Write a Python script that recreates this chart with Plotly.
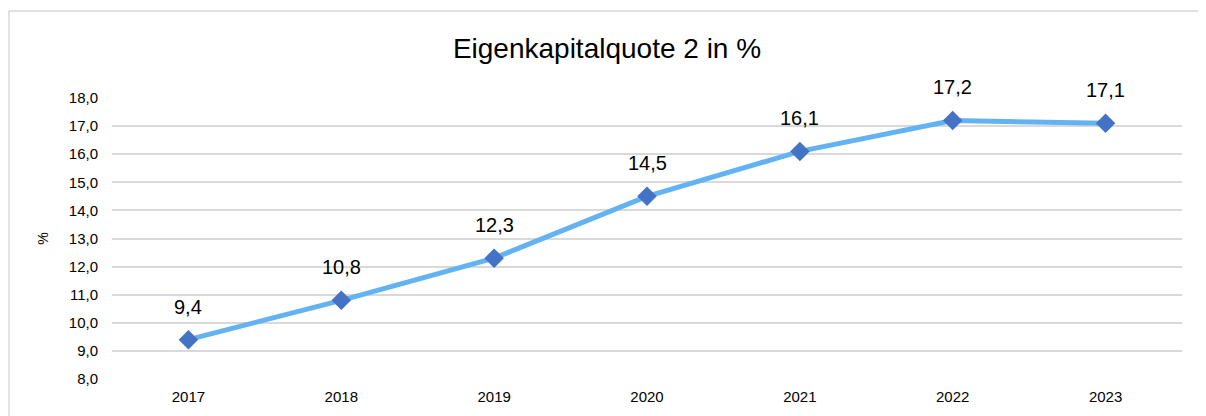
import plotly.graph_objects as go

years = ["2017", "2018", "2019", "2020", "2021", "2022", "2023"]
values = [9.4, 10.8, 12.3, 14.5, 16.1, 17.2, 17.1]
y_ticks = [8, 9, 10, 11, 12, 13, 14, 15, 16, 17, 18]
y_tick_labels = [f"{v:.1f}".replace(".", ",") for v in y_ticks]
value_labels = [f"{v:.1f}".replace(".", ",") for v in values]

FONT = "Liberation Sans, Arial, sans-serif"

# page body has an 8px margin; plot area wanted at screen x 112-1182, y 98-379
OFF = 8
PL, PR, PT, PB = 112, 1182, 98, 379
SW, SH = 1206, 416
W, H = SW - OFF, SH - OFF

fig = go.Figure()
fig.add_trace(go.Scatter(
    x=years, y=values, mode="lines+markers",
    line=dict(color="#63B3F2", width=5),
    marker=dict(symbol="diamond", size=15, color="#4472C4"),
    hoverinfo="skip", showlegend=False,
))

for i, (y, t) in enumerate(zip(values, value_labels)):
    fig.add_annotation(x=i, y=y, xref="x", yref="y", text=t, showarrow=False,
                       yshift=33,
                       font=dict(family=FONT, size=20, color="#000000"))

pw, ph = PR - PL, PB - PT
bx0 = (9 - PL) / pw
bx1 = (SW + 20 - PL) / pw
by0 = (PB - SH - 20) / ph
by1 = (PB - 11) / ph
border = dict(color="#D9D9D9", width=1.5)
fig.add_shape(type="line", xref="paper", yref="paper", x0=bx0, x1=bx0,
              y0=by0, y1=by1, line=border, layer="below")
fig.add_shape(type="line", xref="paper", yref="paper", x0=bx0, x1=bx1,
              y0=by1, y1=by1, line=border, layer="below")

fig.update_layout(
    width=W, height=H,
    margin=dict(l=PL - OFF, r=SW - PR, t=PT - OFF, b=SH - PB),
    paper_bgcolor="white", plot_bgcolor="white",
    font=dict(family=FONT, size=15, color="#000000"),
    title=dict(text="Eigenkapitalquote 2 in %", x=(607 - OFF) / W, xanchor="center",
               y=1 - (48 - OFF) / H, yanchor="middle",
               font=dict(family=FONT, size=28, color="#000000")),
    xaxis=dict(type="category", range=[-0.5, 6.5], showgrid=False,
               showline=False, zeroline=False, ticks="",
               tickfont=dict(size=15), ticklabelstandoff=7),
    yaxis=dict(range=[8, 18], tickvals=y_ticks, ticktext=y_tick_labels,
               showgrid=True, gridcolor="#D9D9D9", gridwidth=1.5,
               zeroline=False, showline=False, ticks="",
               tickfont=dict(size=15), ticklabelstandoff=13,
               title=dict(text="%", font=dict(size=14), standoff=16)),
)

fig.write_html("out.html")
